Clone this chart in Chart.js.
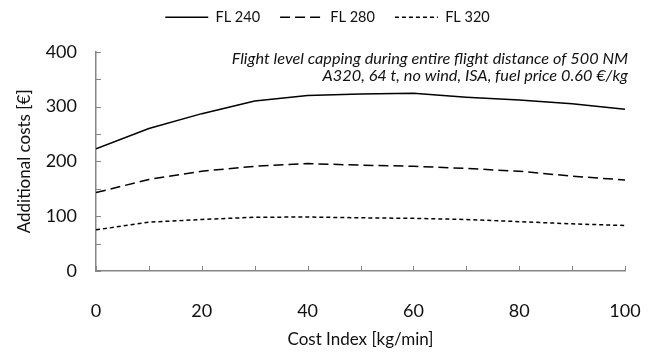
<!DOCTYPE html>
<html>
<head>
<meta charset="utf-8">
<script src="https://cdn.jsdelivr.net/npm/chart.js@4"></script>
<style>
	html, body { margin: 0; padding: 0; background: #fff; }
	#wrap { width: 655px; height: 358px; position: relative; }
</style>
</head>
<body>
<div id="wrap"><canvas id="chart"></canvas></div>
<script>
const costIndex = [0, 10, 20, 30, 40, 50, 60, 70, 80, 90, 100];
const fl240 = [223, 260, 287, 310, 320, 323, 324, 317, 312, 305, 295];
const fl280 = [143, 167, 182, 191, 196, 193, 191, 187, 182, 173, 166];
const fl320 = [75, 89, 94, 98, 98.5, 97, 96, 94, 90, 86, 83];
const seriesNames = ['FL 240', 'FL 280', 'FL 320'];
const noteLines = [
	'Flight level capping during entire flight distance of 500 NM',
	'A320, 64 t, no wind, ISA, fuel price 0.60 \u20ac/kg',
];

const FONT = 'Lato';
const axisGrey = '#868686';

const toPoints = (vals) => vals.map((v, i) => ({ x: costIndex[i], y: v }));

// ticks pointing into the plot, like the original
const innerTicks = {
	id: 'innerTicks',
	afterDatasetsDraw(chart) {
		const { ctx, chartArea, scales } = chart;
		ctx.save();
		ctx.strokeStyle = axisGrey;
		ctx.lineWidth = 1;
		ctx.beginPath();
		for (let v = 0; v <= 100; v += 10) {
			const px = Math.round(scales.x.getPixelForValue(v)) + 0.5;
			ctx.moveTo(px, chartArea.bottom);
			ctx.lineTo(px, chartArea.bottom - 5);
		}
		for (let v = 0; v <= 400; v += 50) {
			const py = Math.round(scales.y.getPixelForValue(v)) + 0.5;
			ctx.moveTo(chartArea.left, py);
			ctx.lineTo(chartArea.left + 5, py);
		}
		ctx.stroke();
		ctx.restore();
	},
};

const noteText = {
	id: 'noteText',
	afterDraw(chart) {
		const { ctx, chartArea } = chart;
		ctx.save();
		ctx.fillStyle = '#111';
		ctx.font = `italic 16.3px ${FONT}`;
		ctx.textAlign = 'right';
		ctx.textBaseline = 'alphabetic';
		noteLines.forEach((line, i) => {
			ctx.fillText(line, chartArea.right + 3, 64 + i * 17);
		});
		ctx.restore();
	},
};

const lineStyle = (dash, width) => ({
	borderColor: '#000',
	backgroundColor: '#fff',
	borderWidth: width,
	borderDash: dash,
	pointRadius: 0,
	fill: false,
	tension: 0,
});

new Chart(document.getElementById('chart'), {
	type: 'line',
	data: {
		datasets: [
			{ label: seriesNames[0], data: toPoints(fl240), ...lineStyle([], 1.5) },
			{ label: seriesNames[1], data: toPoints(fl280), ...lineStyle([10, 5], 1.5) },
			{ label: seriesNames[2], data: toPoints(fl320), ...lineStyle([4, 3], 1.5) },
		],
	},
	options: {
		responsive: true,
		maintainAspectRatio: false,
		animation: false,
		layout: { padding: { top: -10, right: 0, left: 0, bottom: 0 } },
		plugins: {
			legend: {
				position: 'top',
				weight: 3000,
				labels: {
					usePointStyle: true,
					pointStyle: 'line',
					pointStyleWidth: 43,
					padding: 20,
					color: '#111',
					font: { family: FONT, size: 14.5 },
					generateLabels(chart) {
						const items = Chart.defaults.plugins.legend.labels.generateLabels(chart);
						items.forEach((item) => {
							item.lineDash = chart.data.datasets[item.datasetIndex].borderDash;
							item.lineWidth = 1.3;
						});
						return items;
					},
				},
			},
			subtitle: {
				display: true,
				text: ' ',
				font: { size: 1 },
				padding: { top: 0, bottom: 16 },
			},
			tooltip: { enabled: false },
		},
		scales: {
			x: {
				type: 'linear',
				min: 0,
				max: 100,
				grid: { display: false, drawTicks: false },
				border: { display: true, color: axisGrey, width: 1.5 },
				ticks: {
					stepSize: 20,
					padding: 29,
					color: '#111',
					font: { family: FONT, size: 18 },
				},
				title: {
					display: true,
					text: 'Cost Index [kg/min]',
					color: '#111',
					font: { family: FONT, size: 17 },
					padding: { top: 0, bottom: 8 },
				},
				afterFit(scale) {
					scale.height = 87;
					scale.paddingRight = 30;
				},
			},
			y: {
				min: 0,
				max: 400,
				grid: { display: false, drawTicks: false },
				border: { display: true, color: axisGrey, width: 1.5 },
				ticks: {
					stepSize: 100,
					padding: 19,
					color: '#111',
					font: { family: FONT, size: 18 },
				},
				title: {
					display: true,
					text: 'Additional costs [\u20ac]',
					color: '#111',
					font: { family: FONT, size: 17 },
					padding: { top: 14, bottom: 0 },
				},
				afterFit(scale) {
					scale.width = 96;
				},
			},
		},
	},
	plugins: [innerTicks, noteText],
});
</script>
</body>
</html>
